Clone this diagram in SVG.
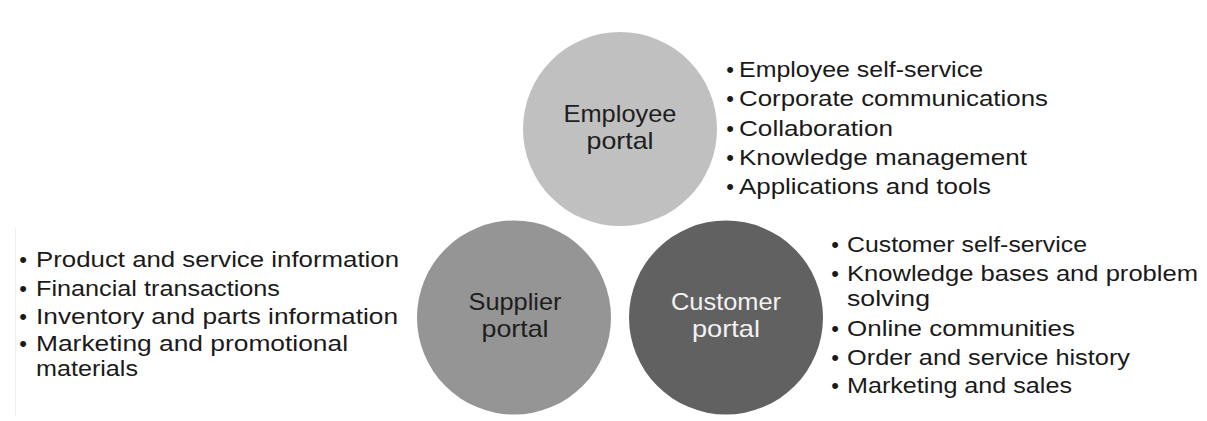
<svg xmlns="http://www.w3.org/2000/svg" width="1207" height="421" viewBox="0 0 1207 421">
  <style>
    .lbl { font-family: "Liberation Sans", Arial, sans-serif; font-size: 24px; text-anchor: middle; }
    .dark { fill: #1e1e1e; }
    .light { fill: #f2f2f2; }
    .item { font-family: "Liberation Sans", Arial, sans-serif; font-size: 22px; fill: #1a1a1a; }
    .bul { font-family: "Liberation Sans", Arial, sans-serif; font-size: 22px; fill: #1a1a1a; text-anchor: middle; }
  </style>
  <rect width="1207" height="421" fill="#ffffff"/>
  <line x1="15.5" y1="228" x2="15.5" y2="416" stroke="#ececec" stroke-width="1"/>

  <g id="employee-portal">
    <circle cx="620" cy="129" r="97" fill="#c0c0c0"/>
    <text class="lbl dark" x="620" y="122" textLength="113" lengthAdjust="spacingAndGlyphs">Employee</text>
    <text class="lbl dark" x="620" y="149" textLength="67" lengthAdjust="spacingAndGlyphs">portal</text>
  </g>

  <g id="supplier-portal">
    <circle cx="514" cy="317.5" r="97" fill="#959595"/>
    <text class="lbl dark" x="515" y="310" textLength="93" lengthAdjust="spacingAndGlyphs">Supplier</text>
    <text class="lbl dark" x="515" y="337" textLength="67" lengthAdjust="spacingAndGlyphs">portal</text>
  </g>

  <g id="customer-portal">
    <circle cx="726" cy="317.5" r="97" fill="#616161"/>
    <text class="lbl light" x="726" y="310" textLength="110" lengthAdjust="spacingAndGlyphs">Customer</text>
    <text class="lbl light" x="726" y="337" textLength="68" lengthAdjust="spacingAndGlyphs">portal</text>
  </g>

  <g id="employee-list">
    <text class="bul" x="730" y="77">•</text>
    <text class="item" x="739" y="77" textLength="244" lengthAdjust="spacingAndGlyphs">Employee self-service</text>
    <text class="bul" x="730" y="106">•</text>
    <text class="item" x="739" y="106" textLength="309" lengthAdjust="spacingAndGlyphs">Corporate communications</text>
    <text class="bul" x="730" y="136">•</text>
    <text class="item" x="739" y="136" textLength="154" lengthAdjust="spacingAndGlyphs">Collaboration</text>
    <text class="bul" x="730" y="165">•</text>
    <text class="item" x="739" y="165" textLength="288" lengthAdjust="spacingAndGlyphs">Knowledge management</text>
    <text class="bul" x="730" y="194">•</text>
    <text class="item" x="739" y="194" textLength="252" lengthAdjust="spacingAndGlyphs">Applications and tools</text>
  </g>

  <g id="supplier-list">
    <text class="bul" x="23" y="267">•</text>
    <text class="item" x="36" y="267" textLength="363" lengthAdjust="spacingAndGlyphs">Product and service information</text>
    <text class="bul" x="23" y="296">•</text>
    <text class="item" x="36" y="296" textLength="244" lengthAdjust="spacingAndGlyphs">Financial transactions</text>
    <text class="bul" x="23" y="324">•</text>
    <text class="item" x="36" y="324" textLength="362" lengthAdjust="spacingAndGlyphs">Inventory and parts information</text>
    <text class="bul" x="23" y="351">•</text>
    <text class="item" x="36" y="351" textLength="312" lengthAdjust="spacingAndGlyphs">Marketing and promotional</text>
    <text class="item" x="36" y="376" textLength="102" lengthAdjust="spacingAndGlyphs">materials</text>
  </g>

  <g id="customer-list">
    <text class="bul" x="835" y="252">•</text>
    <text class="item" x="847" y="252" textLength="240" lengthAdjust="spacingAndGlyphs">Customer self-service</text>
    <text class="bul" x="835" y="281">•</text>
    <text class="item" x="847" y="281" textLength="351" lengthAdjust="spacingAndGlyphs">Knowledge bases and problem</text>
    <text class="item" x="847" y="306" textLength="83" lengthAdjust="spacingAndGlyphs">solving</text>
    <text class="bul" x="835" y="336">•</text>
    <text class="item" x="847" y="336" textLength="228" lengthAdjust="spacingAndGlyphs">Online communities</text>
    <text class="bul" x="835" y="365">•</text>
    <text class="item" x="847" y="365" textLength="283" lengthAdjust="spacingAndGlyphs">Order and service history</text>
    <text class="bul" x="835" y="393">•</text>
    <text class="item" x="847" y="393" textLength="225" lengthAdjust="spacingAndGlyphs">Marketing and sales</text>
  </g>

  <g id="connectors"></g>
</svg>
